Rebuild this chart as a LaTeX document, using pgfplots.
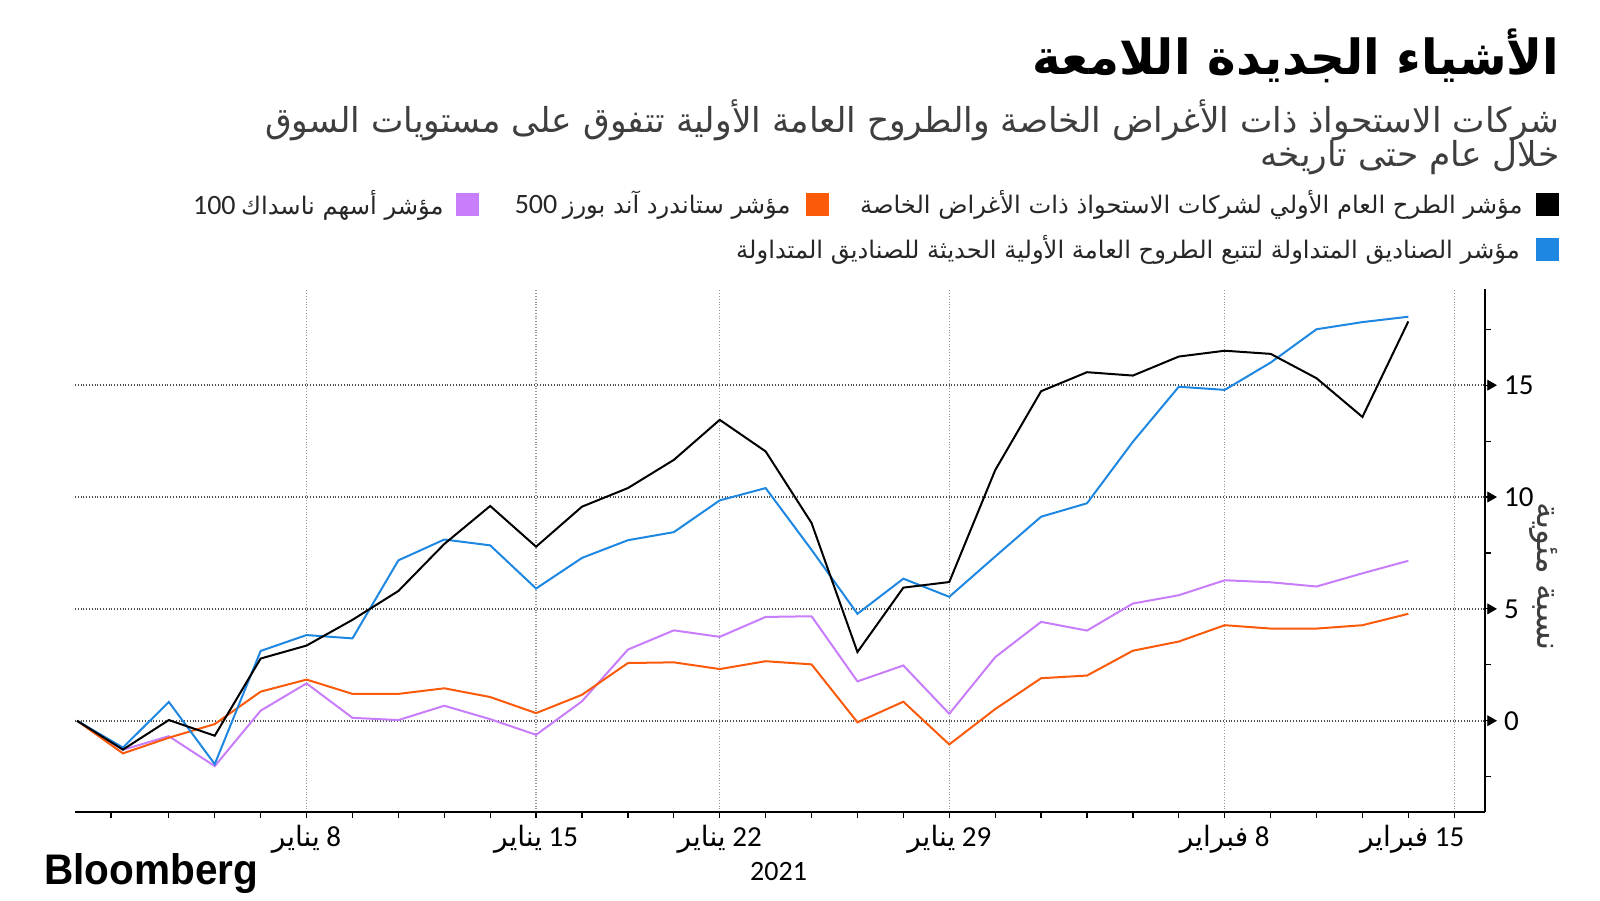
\documentclass[border=0pt]{standalone}
\usepackage{pgfplots}
\pgfplotsset{compat=1.18}
\usepackage{pgfplotstable}
\usepackage{fontspec}
\setmainfont{Carlito}
\newfontfamily\arabicfont[Script=Arabic]{DejaVu Sans}
\newfontfamily\logofont{Liberation Sans}
\TeXXeTstate=1

\definecolor{cOrange}{RGB}{250,90,10}
\definecolor{cPurple}{RGB}{200,125,250}
\definecolor{cBlue}{RGB}{30,135,225}
\definecolor{cSub}{RGB}{62,62,62}
\definecolor{cGridH}{RGB}{80,80,80}
\definecolor{cGridV}{RGB}{150,150,150}

\pgfplotstableread{
i black blue orange purple
0 0 0 0 0
1 -1.29 -1.20 -1.46 -1.30
2 0.03 0.84 -0.76 -0.69
3 -0.67 -1.94 -0.15 -2.03
4 2.78 3.12 1.30 0.45
5 3.36 3.83 1.84 1.67
6 4.51 3.68 1.20 0.13
7 5.80 7.17 1.20 0.03
8 7.90 8.10 1.45 0.67
9 9.60 7.84 1.06 0.07
10 7.78 5.91 0.34 -0.63
11 9.57 7.28 1.16 0.87
12 10.40 8.07 2.58 3.18
13 11.66 8.43 2.61 4.04
14 13.45 9.85 2.31 3.75
15 12.04 10.40 2.66 4.64
16 8.84 7.64 2.52 4.67
17 3.07 4.78 -0.07 1.76
18 5.95 6.35 0.85 2.47
19 6.20 5.54 -1.06 0.31
20 11.20 7.34 0.52 2.84
21 14.73 9.12 1.90 4.42
22 15.58 9.72 2.02 4.03
23 15.43 12.47 3.13 5.24
24 16.28 14.93 3.54 5.61
25 16.54 14.79 4.27 6.28
26 16.40 16.01 4.12 6.19
27 15.31 17.50 4.12 6.00
28 13.58 17.82 4.27 6.59
29 17.85 18.06 4.78 7.15
}\datatable

\newcommand{\ar}[1]{{\arabicfont\beginR #1\endR}}

\begin{document}
\begin{tikzpicture}[x=1pt,y=1pt]
\path[use as bounding box] (0,0) rectangle (800,450);

% title and subtitle
\node[anchor=east, inner sep=0] at (780,422) {\fontsize{24.2}{30}\selectfont\arabicfont\bfseries\beginR الأشياء الجديدة اللامعة\endR};
\node[anchor=east, inner sep=0, text=cSub] at (780,390) {\fontsize{17.2}{19}\selectfont\ar{شركات الاستحواذ ذات الأغراض الخاصة والطروح العامة الأولية تتفوق على مستويات السوق}};
\node[anchor=east, inner sep=0, text=cSub] at (780,371) {\fontsize{17.2}{19}\selectfont\ar{خلال عام حتى تاريخه}};

% legend
\fill[black] (768,341.75) rectangle (779.5,353.25);
\node[anchor=east, inner sep=0, text=black!85] at (761.5,347.5) {\fontsize{12.1}{14}\selectfont\ar{مؤشر الطرح العام الأولي لشركات الاستحواذ ذات الأغراض الخاصة}};
\fill[cOrange] (403,341.75) rectangle (414.5,353.25);
\node[anchor=east, inner sep=0, text=black!85] at (395.5,347.5) {\fontsize{12.1}{14}\selectfont{\fontsize{14}{14}\selectfont 500} \ar{مؤشر ستاندرد آند بورز}};
\fill[cPurple] (228,341.75) rectangle (239.5,353.25);
\node[anchor=east, inner sep=0, text=black!85] at (222,347.5) {\fontsize{12.1}{14}\selectfont{\fontsize{14}{14}\selectfont 100} \ar{مؤشر أسهم ناسداك}};
\fill[cBlue] (768,319.25) rectangle (779.5,330.75);
\node[anchor=east, inner sep=0, text=black!85] at (760,325) {\fontsize{12.1}{14}\selectfont\ar{مؤشر الصناديق المتداولة لتتبع الطروح العامة الأولية الحديثة للصناديق المتداولة}};

\begin{axis}[
  at={(37.5pt,44pt)}, anchor=south west,
  scale only axis, width=705pt, height=261.5pt,
  xmin=-0.044, xmax=30.67, ymin=-4.08, ymax=19.3,
  axis x line*=bottom, axis y line*=right,
  axis line style={black, line width=0.9pt},
  clip=false,
  tick align=outside,
  major tick length=3pt, minor tick length=3pt,
  tick style={black, line width=0.6pt},
  xtick={5,10,14,19,25,30},
  xticklabels={
    {\ar{\fontsize{14}{15}\selectfont يناير} 8},
    {\ar{\fontsize{14}{15}\selectfont يناير} 15},
    {\ar{\fontsize{14}{15}\selectfont يناير} 22},
    {\ar{\fontsize{14}{15}\selectfont يناير} 29},
    {\ar{\fontsize{14}{15}\selectfont فبراير} 8},
    {\hspace*{10pt}\makebox[0pt][r]{\ar{\fontsize{14}{15}\selectfont فبراير} 15}}},
  minor xtick={0.74,2,3,4,6,7,8,9,11,12,13,15,16,17,18,20,21,22,23,24,26,27,28,29},
  ytick={0,5,10,15},
  yticklabels={0,5,10,15},
  minor ytick={-2.5,2.5,7.5,12.5,17.5},
  xmajorgrids, ymajorgrids,
  major x grid style={densely dotted, cGridV, line width=0.6pt},
  major y grid style={densely dotted, cGridH, line width=0.8pt},
  ticklabel style={font=\fontsize{14.5}{16}\selectfont, text=black},
  yticklabel style={xshift=3pt},
]
\addplot[cPurple, line width=1pt] table[x=i, y=purple] {\datatable};
\addplot[cOrange, line width=1pt] table[x=i, y=orange] {\datatable};
\addplot[cBlue, line width=1pt] table[x=i, y=blue] {\datatable};
\addplot[black, line width=1pt] table[x=i, y=black] {\datatable};
\addplot[only marks, mark=triangle*, mark size=2.8pt, mark options={rotate=-90, fill=black, draw=black}] coordinates {(30.79,0) (30.79,5) (30.79,10) (30.79,15)};
\end{axis}

% y label
\node[rotate=-90, inner sep=0, text=cSub] at (772,161.5) {\fontsize{16.5}{18}\selectfont\ar{نسبة مئوية}};

% footer
\node[anchor=base west, inner sep=0] at (22,8) {\resizebox{107pt}{15.5pt}{\logofont\bfseries Bloomberg}};
\node[inner sep=0] at (389.3,14) {\fontsize{14}{16}\selectfont 2021};
\end{tikzpicture}
\end{document}
